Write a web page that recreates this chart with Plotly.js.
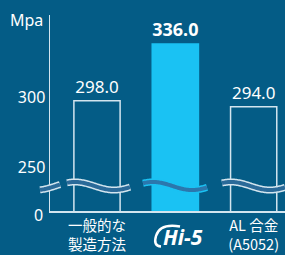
<!DOCTYPE html>
<html><head><meta charset="utf-8">
<script src="https://cdn.plot.ly/plotly-3.0.1.min.js"></script>
<style>html,body{margin:0;padding:0;background:#045c86;}#c{width:285px;height:255px;}</style>
</head><body><div id="c"></div>
<script>
const categories = ['一般的な 製造方法', 'Hi-5', 'AL 合金 (A5052)'];
const tickLabels = ['一般的な<br>製造方法', '', 'AL 合金<br>(A5052)'];
const logoLabel = 'Hi-5';
const values = [298.0, 336.0, 294.0];
const highlight = [false, true, false];
const yTickVals = [253.5, 300];
const yTickText = ['250', '300'];

const BG = '#045c86', LIGHT = '#d3e5ef', CYAN = '#1ac2f3';
const W = 285, H = 255, M = {l: 50, r: 0, t: 15, b: 44};
const pw = W - M.l - M.r, ph = H - M.t - M.b;
const px = x => (x - M.l) / pw;
const py = y => (H - M.b - y) / ph;

function wavePath(x0, x1) {
  let d = '';
  for (let x = x0; x <= x1 + 0.01; x += 1) {
    const y = 186 - 4 * Math.cos(2 * Math.PI * (x - 75) / 78);
    d += (d ? ' L ' : 'M ') + px(x).toFixed(4) + ',' + py(y).toFixed(4);
  }
  return d;
}
const segs = [[40, 60, false], [67, 130, false], [143, 207, true], [222, 285, false]];
const shapes = [];
segs.forEach(([a, b, onBar]) => {
  shapes.push({type: 'path', xref: 'paper', yref: 'paper', layer: 'above', path: wavePath(a, b),
    line: {color: onBar ? CYAN : LIGHT, width: 7}});
  shapes.push({type: 'path', xref: 'paper', yref: 'paper', layer: 'above', path: wavePath(a, b),
    line: {color: onBar ? '#2b77ad' : '#2a6a99', width: 4}});
});
// Hi-5 logo swoosh
shapes.push({type: 'path', xref: 'paper', yref: 'paper', layer: 'above',
  path: `M ${px(180)},${py(226.5)} Q ${px(160)},${py(223)} ${px(156)},${py(236)} Q ${px(153)},${py(246)} ${px(161)},${py(246.5)}`,
  line: {color: 'white', width: 2.5}});

const trace = {
  type: 'bar', x: categories, y: values,
  marker: {color: highlight.map(h => h ? CYAN : 'rgba(0,0,0,0)'),
           line: {color: highlight.map(h => h ? CYAN : LIGHT), width: 1.5}},
  text: values.map((v, i) => highlight[i] ? '<b>' + v.toFixed(1) + '</b>' : v.toFixed(1)),
  textposition: 'outside', cliponaxis: false,
  textfont: {color: 'white', size: highlight.map(h => h ? 20 : 17), family: 'Noto Sans, Open Sans, sans-serif'},
  hoverinfo: 'none'
};

const layout = {
  width: W, height: H, margin: M,
  paper_bgcolor: BG, plot_bgcolor: BG,
  showlegend: false, bargap: 0.41,
  font: {family: 'Noto Sans, Noto Sans CJK JP, sans-serif', color: 'white'},
  xaxis: {type: 'category', range: [-0.6, 2.4], tickvals: categories, ticktext: tickLabels,
          showline: true, linecolor: LIGHT, linewidth: 1.5, ticks: '', showgrid: false,
          ticklabelstandoff: 1,
          tickfont: {size: 14.5, color: 'white', family: 'Noto Sans CJK JP, Noto Sans, sans-serif'}},
  yaxis: {range: [224, 355.5], tickvals: yTickVals, ticktext: yTickText,
          showline: true, linecolor: LIGHT, linewidth: 1.5, ticks: '', showgrid: false, zeroline: false,
          tickfont: {size: 16, color: 'white'}},
  shapes: shapes,
  annotations: [
    {text: 'Mpa', xref: 'paper', yref: 'paper', x: px(45), y: py(20), xanchor: 'right', yanchor: 'middle',
     showarrow: false, font: {size: 16, color: 'white'}},
    {text: '0', xref: 'paper', yref: 'paper', x: px(45), y: py(215), xanchor: 'right', yanchor: 'middle',
     showarrow: false, font: {size: 16, color: 'white'}},
    {text: '<b><i>' + logoLabel + '</i></b>', xref: 'x', yref: 'paper', x: categories[1], xshift: 8,
     y: py(237), yanchor: 'middle', showarrow: false,
     font: {size: 21, color: 'white', family: 'Noto Sans, DejaVu Sans, sans-serif'}}
  ]
};
Plotly.newPlot('c', [trace], layout, {staticPlot: true, displayModeBar: false});
</script></body></html>
